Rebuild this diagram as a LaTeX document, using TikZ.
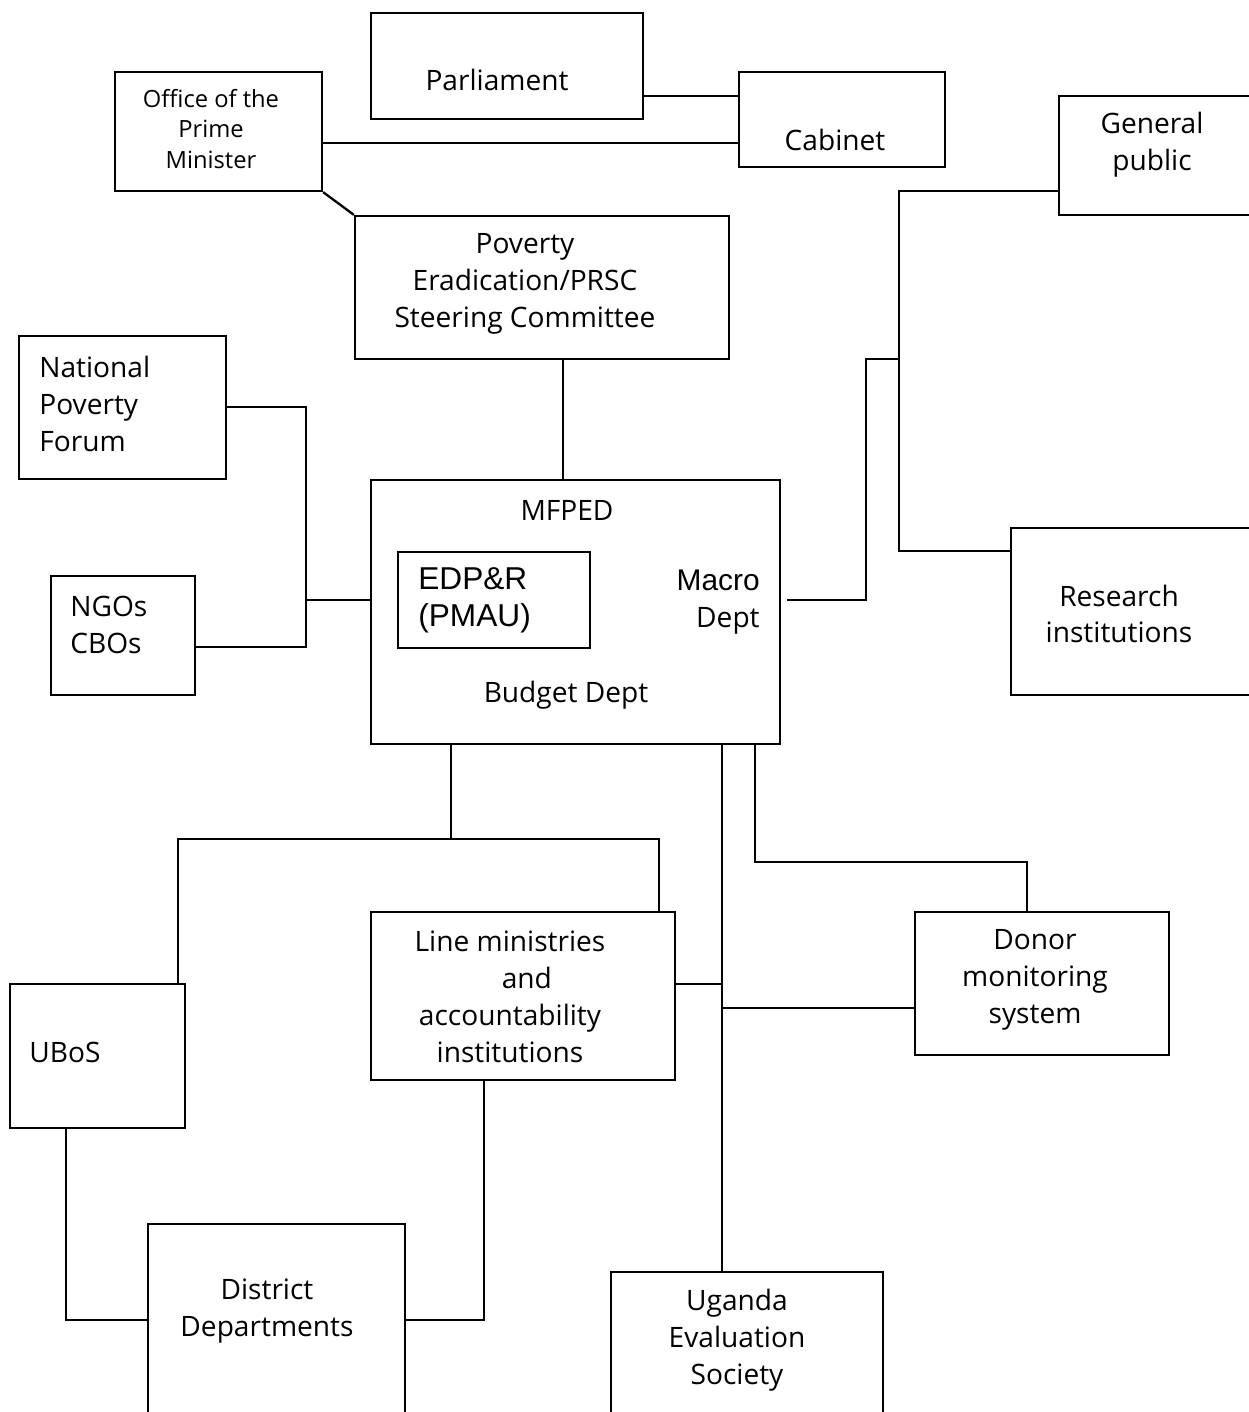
\documentclass[tikz,border=0pt]{standalone}
\usepackage{fontspec}
\setmainfont{Open Sans}
\newfontfamily\arialf{Liberation Sans}
\usetikzlibrary{fit}
\begin{document}
\begin{tikzpicture}[x=0.02cm,y=-0.02cm,
  box/.style={draw, line width=1.3pt, inner sep=0pt},
  wire/.style={line width=1.3pt},
  lbl/.style={align=center, font=\fontsize{16}{21}\selectfont, inner sep=0pt},
  lbll/.style={align=left, font=\fontsize{16}{21}\selectfont, inner sep=0pt, anchor=west},
  small/.style={align=center, font=\fontsize{13.5}{17.5}\selectfont, inner sep=0pt}]
\useasboundingbox (0,0) rectangle (1248,1412);
% boxes
\node[box, fit={(371,13) (643,119)}] (parl) {};
\node[box, fit={(739,72) (945,167)}] (cab) {};
\node[box, fit={(115,72) (322,191)}] (opm) {};
\node[box, fit={(1059,96) (1270,215)}] (gen) {};
\node[box, fit={(355,216) (729,359)}] (psc) {};
\node[box, fit={(19,336) (226,479)}] (npf) {};
\node[box, fit={(51,576) (195,695)}] (ngo) {};
\node[box, fit={(371,480) (780,744)}] (mfp) {};
\node[box, fit={(398,552) (590,648)}] (edp) {};
\node[box, fit={(1011,528) (1270,695)}] (res) {};
\node[box, fit={(10,984) (185,1128)}] (ubos) {};
\node[box, fit={(371,912) (675,1080)}] (line) {};
\node[box, fit={(915,912) (1169,1055)}] (don) {};
\node[box, fit={(148,1224) (405,1440)}] (dist) {};
\node[box, fit={(611,1272) (883,1440)}] (ues) {};
% labels
\node[lbl] (tparl) at (497,80) {Parliament};
\node[lbl] (tcab) at (835,140) {Cabinet};
\node[small] (topm) at (211,129) {Office of the\\Prime\\Minister};
\node[lbl] (tgen) at (1152,145) {General\\public};
\node[lbl] (tpsc) at (525,284) {Poverty\\Eradication/PRSC\\Steering Committee};
\node[lbll] (tnpf) at (39,404) {National\\Poverty\\Forum};
\node[lbll] (tngo) at (70,625) {NGOs\\CBOs};
\node[lbl] (tmfp) at (567,510) {MFPED};
\node[align=left, anchor=west, inner sep=0pt, font=\arialf\fontsize{18}{21}\selectfont] (tedp) at (418,600) {EDP\&R\\(PMAU)};
\node[align=right, anchor=east, inner sep=0pt, font=\fontsize{16}{21}\selectfont] (tmac) at (760,602) {{\arialf\fontsize{17}{21}\selectfont Macro}\\Dept};
\node[lbl] (tbud) at (566,695) {Budget Dept};
\node[lbl] (tres) at (1119,614) {Research\\institutions};
\node[lbl] (tline) at (510,997) {Line ministries\\\hspace*{1.2em}and\\accountability\\institutions};
\node[lbl] (tdon) at (1035,980) {Donor\\monitoring\\system};
\node[lbll] (tubos) at (29,1052) {UBoS};
\node[lbl] (tdist) at (267,1311) {District\\Departments};
\node[lbl] (tues) at (737,1340) {Uganda\\Evaluation\\Society};
% connectors
\draw[wire] (parl.east |- 0,96) -- (cab.west |- 0,96);
\draw[wire] (opm.east |- 0,143) -- (cab.west |- 0,143);
\draw[wire] (opm.south east) -- (psc.north west);
\draw[wire] (psc.south -| 563,0) -- (mfp.north -| 563,0);
\draw[wire] (npf.east |- 0,407) -- (306,407) -- (306,647) -- (ngo.east |- 0,647);
\draw[wire] (306,600) -- (mfp.west |- 0,600);
\draw[wire] (787,600) -- (866,600) -- (866,359) -- (899,359);
\draw[wire] (gen.west |- 0,191) -- (899,191) -- (899,551) -- (res.west |- 0,551);
\draw[wire] (mfp.south -| 451,0) -- (451,839);
\draw[wire] (ubos.north -| 178,0) -- (178,839) -- (659,839) -- (line.north -| 659,0);
\draw[wire] (mfp.south -| 722,0) -- (ues.north -| 722,0);
\draw[wire] (line.east |- 0,984) -- (722,984);
\draw[wire] (722,1008) -- (don.west |- 0,1008);
\draw[wire] (mfp.south -| 755,0) -- (755,862) -- (1027,862) -- (don.north -| 1027,0);
\draw[wire] (ubos.south -| 66,0) -- (66,1320) -- (dist.west |- 0,1320);
\draw[wire] (dist.east |- 0,1320) -- (484,1320) -- (line.south -| 484,0);
\end{tikzpicture}
\end{document}
